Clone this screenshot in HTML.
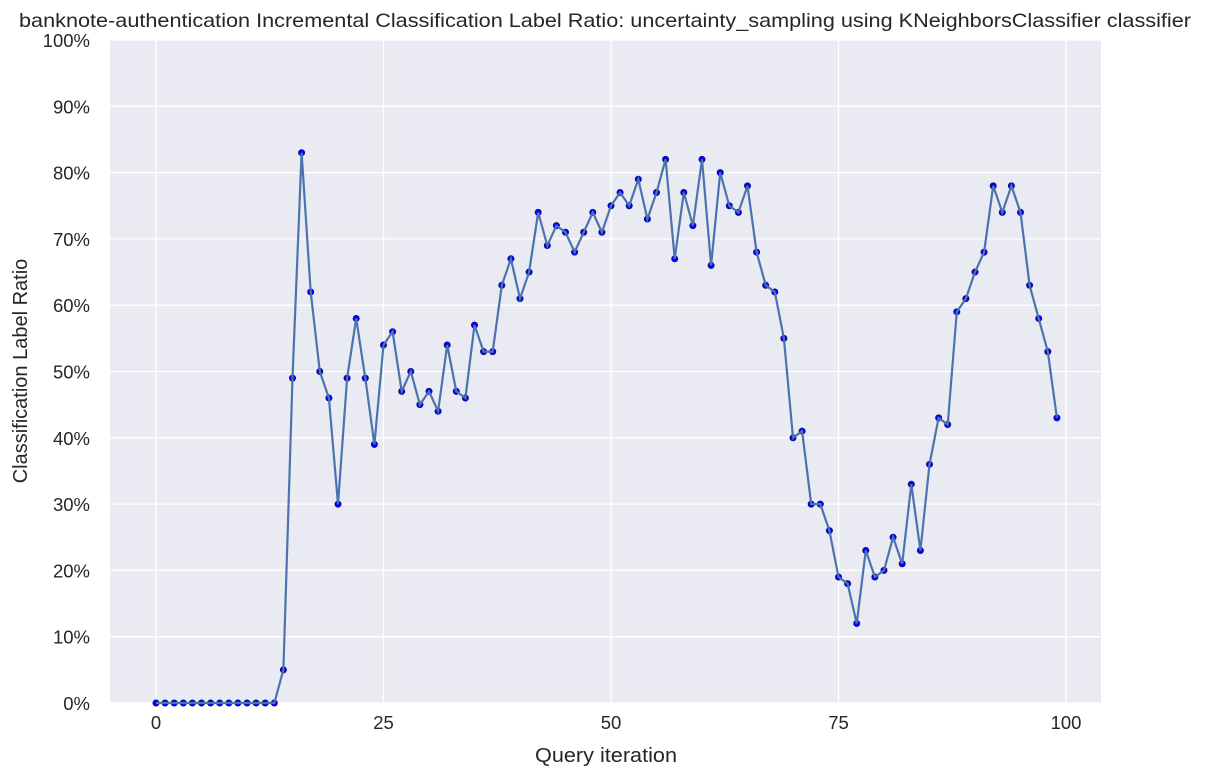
<!DOCTYPE html>
<html><head><meta charset="utf-8"><style>
body{margin:0;background:#fff;font-family:"Liberation Sans",sans-serif;}
svg text{font-family:"Liberation Sans",sans-serif;fill:#262626;}
</style></head><body>
<svg id="chart" width="1205" height="779" xmlns="http://www.w3.org/2000/svg">
<rect x="110" y="40" width="991" height="663" fill="#eaeaf2"/>
<g id="grid"></g>
<g id="series"></g>
<g id="labels"></g>
<text x="605" y="27" font-size="19.5" text-anchor="middle" textLength="1172" lengthAdjust="spacingAndGlyphs">banknote-authentication Incremental Classification Label Ratio: uncertainty_sampling using KNeighborsClassifier classifier</text>
<text x="606" y="762" font-size="20" text-anchor="middle" textLength="142" lengthAdjust="spacingAndGlyphs">Query iteration</text>
<text x="27" y="371" font-size="20" text-anchor="middle" transform="rotate(-90 27 371)">Classification Label Ratio</text>
</svg>
<script>
const values = [0,0,0,0,0,0,0,0,0,0,0,0,0,0,5,49,83,62,50,46,30,49,58,49,39,54,56,47,50,45,47,44,54,47,46,57,53,53,63,67,61,65,74,69,72,71,68,71,74,71,75,77,75,79,73,77,82,67,77,72,82,66,80,75,74,78,68,63,62,55,40,41,30,30,26,19,18,12,23,19,20,25,21,33,23,36,43,42,59,61,65,68,78,74,78,74,63,58,53,43];
const xTicks = [0,25,50,75,100];
const yTicks = [0,10,20,30,40,50,60,70,80,90,100];
const NS="http://www.w3.org/2000/svg";
const sx = v => 156 + v*9.1;
const sy = v => 703 - v*6.63;
const grid=document.getElementById('grid'), series=document.getElementById('series'), labels=document.getElementById('labels');
function mk(tag, attrs, parent){const e=document.createElementNS(NS,tag);for(const k in attrs)e.setAttribute(k,attrs[k]);parent.appendChild(e);return e;}
xTicks.forEach(t=>{
  const l=mk('line',{x1:sx(t),x2:sx(t),y1:40,y2:703,stroke:'#fff','stroke-width':1.3},grid);
  
  
  const tx=mk('text',{x:sx(t),y:729,'font-size':18.5,'text-anchor':'middle'},labels);
  tx.textContent=t;
  
  
});
yTicks.forEach(t=>{
  const l=mk('line',{x1:110,x2:1101,y1:sy(t),y2:sy(t),stroke:'#fff','stroke-width':1.3},grid);
  
  
  const tx=mk('text',{x:90,y:sy(t)+7,'font-size':18.5,'text-anchor':'end'},labels);
  tx.textContent=t+'%';
  
  
});
values.forEach((v,i)=>{
  const c=mk('circle',{cx:sx(i),cy:sy(v),r:3.2,fill:'#0000ff',stroke:'#111166','stroke-width':0.6},series);
  
  
});
const pts=values.map((v,i)=>sx(i)+','+sy(v)).join(' ');
const pl=mk('polyline',{points:pts,fill:'none',stroke:'#4c72b0','stroke-width':2.2},series);


</script>
</body></html>
